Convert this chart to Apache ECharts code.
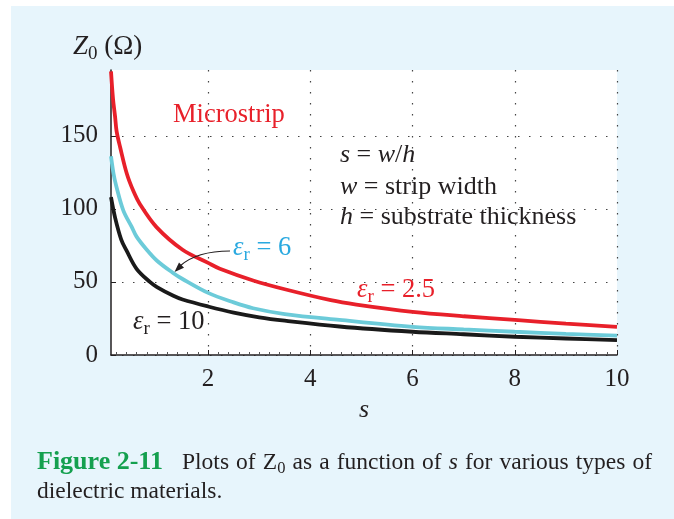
<!DOCTYPE html>
<html>
<head>
<meta charset="utf-8">
<script src="https://cdn.jsdelivr.net/npm/echarts@6/dist/echarts.min.js"></script>
<style>
html,body{margin:0;padding:0;background:#ffffff;width:674px;height:519px;overflow:hidden;}
#bg{position:absolute;left:11px;top:6px;right:0;bottom:0;background:#e7f5fc;}
#chart{position:absolute;left:0;top:0;width:674px;height:519px;}
</style>
</head>
<body>
<div id="bg"></div>
<div id="chart"></div>
<script>
// ---- data ----
const xTicks = [2, 4, 6, 8, 10];
const yTicks = [0, 50, 100, 150];

const sRed   = [0.1, 0.14, 0.18, 0.21, 0.28, 0.41, 0.54, 0.67, 0.99, 1.5, 2.0, 2.23, 2.88, 3.5, 4.4, 4.9, 6.0, 7.0, 8.0, 9.0, 10];
const zRed   = [194, 175, 163, 153, 142, 124, 112, 103, 87.5, 72, 63, 59, 51, 45, 37.5, 34.5, 29.5, 26.5, 24, 21.5, 19.3];

const sCyan  = [0.1, 0.15, 0.2, 0.34, 0.5, 0.6, 0.8, 1.0, 1.3, 1.5, 2.0, 2.5, 2.88, 3.5, 4.57, 6.0, 7.0, 8.0, 9.0, 10];
const zCyan  = [136, 124, 116, 99, 88, 81, 72, 64.5, 56.5, 52, 42.5, 36, 32, 28, 24, 19.3, 17.5, 15.9, 14.5, 13.2];

const sBlack = [0.1, 0.18, 0.3, 0.41, 0.6, 0.86, 1.0, 1.32, 1.5, 2.0, 2.5, 3.0, 3.5, 4.57, 6.0, 7.0, 8.0, 9.0, 10];
const zBlack = [108, 94, 79, 71, 59, 50, 46.5, 40.5, 38, 33.2, 29, 25.8, 23.5, 19.5, 15.9, 14.2, 12.5, 11.3, 10.2];

const captionLabel = 'Figure 2-11';
const captionWords1 = ['Plots', 'of', 'Z|0', 'as', 'a', 'function', 'of', '*s', 'for', 'various', 'types', 'of'];
const captionLine2 = 'dielectric materials.';

const zip = (a, b) => a.map((v, i) => [v, b[i]]);

const SERIF = '"Liberation Serif", "DejaVu Serif", serif';
const INK = '#231f20';
const RED = '#e8202a';
const CYAN = '#6ccbd9';
const CYANTXT = '#2aa9e0';
const GREEN = '#14a04f';
const dotted = { type: [1.5, 9.5], color: '#444', width: 1.2 };

const chart = echarts.init(document.getElementById('chart'), null, { renderer: 'canvas' });

function epsRich(color, size) {
  return {
    e: { fontFamily: SERIF, fontSize: size, fontStyle: 'italic', fill: color },
    r: { fontFamily: SERIF, fontSize: Math.round(size * 0.7), fill: color, padding: [14, 0, 0, 0] },
    n: { fontFamily: SERIF, fontSize: size, fill: color }
  };
}

// ---- justified caption line 1 ----
const CAP = 23.5, CAPSUB = 16.5;
const mctx = document.createElement('canvas').getContext('2d');
function mw(text, size, style) {
  mctx.font = (style || '') + ' ' + size + 'px "Liberation Serif"';
  return mctx.measureText(text).width;
}
function wordInfo(w) {
  if (w.indexOf('|') >= 0) {
    const [a, b] = w.split('|');
    return { width: mw(a, CAP) + mw(b, CAPSUB),
      style: { text: '{n|' + a + '}{s|' + b + '}', verticalAlign: 'middle',
        rich: { n: { fontFamily: SERIF, fontSize: CAP, fill: INK },
                s: { fontFamily: SERIF, fontSize: CAPSUB, fill: INK, padding: [12, 0, 0, 0] } } } };
  }
  if (w[0] === '*') {
    const t = w.slice(1);
    return { width: mw(t, CAP, 'italic'),
      style: { text: t, fontFamily: SERIF, fontSize: CAP, fontStyle: 'italic', fill: INK, verticalAlign: 'middle' } };
  }
  return { width: mw(w, CAP), style: { text: w, fontFamily: SERIF, fontSize: CAP, fill: INK, verticalAlign: 'middle' } };
}
const capStart = 182, capEnd = 652, capY = 463;
const infos = captionWords1.map(wordInfo);
const totalW = infos.reduce((s, o) => s + o.width, 0);
const gap = (capEnd - capStart - totalW) / (infos.length - 1);
const captionGraphics = [];
let cx = capStart;
infos.forEach(o => {
  captionGraphics.push({ type: 'text', x: cx, y: capY, z: 10, style: o.style });
  cx += o.width + gap;
});
captionGraphics.push({ type: 'text', x: 37, y: capY - 1, z: 10,
  style: { text: captionLabel, fontFamily: SERIF, fontSize: 26, fontWeight: 'bold', fill: GREEN, verticalAlign: 'middle' } });
captionGraphics.push({ type: 'text', x: 37, y: 492, z: 10,
  style: { text: captionLine2, fontFamily: SERIF, fontSize: CAP, fill: INK, verticalAlign: 'middle' } });

const txtRich = {
  i: { fontFamily: SERIF, fontSize: 26, fontStyle: 'italic', fill: INK },
  n: { fontFamily: SERIF, fontSize: 26, fill: INK }
};

const option = {
  backgroundColor: 'transparent',
  animation: false,
  grid: { left: 111, right: 57, top: 70, bottom: 164, show: true, backgroundColor: '#ffffff', borderWidth: 0 },
  xAxis: {
    type: 'value', min: 0.1, max: 10,
    name: 's', nameLocation: 'middle', nameGap: 37,
    nameTextStyle: { fontFamily: SERIF, fontSize: 26, fontStyle: 'italic', color: INK },
    axisLine: { show: true, onZero: false, lineStyle: { color: INK, width: 1.5 } },
    axisTick: { show: true, inside: true, length: 5, customValues: xTicks, lineStyle: { color: INK } },
    minorTick: { show: true, splitNumber: 10, length: 3, lineStyle: { color: '#555' } },
    axisLabel: { customValues: xTicks, fontFamily: SERIF, fontSize: 25, color: INK, margin: 12 },
    splitLine: { show: true, lineStyle: dotted }
  },
  yAxis: {
    type: 'value', min: 0, max: 195,
    axisLine: { show: true, onZero: false, lineStyle: { color: INK, width: 1.5 } },
    axisTick: { show: true, inside: true, length: 5, customValues: yTicks, lineStyle: { color: INK } },
    axisLabel: { customValues: yTicks, fontFamily: SERIF, fontSize: 25, color: INK, margin: 13 },
    splitLine: { show: true, lineStyle: dotted }
  },
  series: [
    { type: 'line', name: 'er=2.5', data: zip(sRed, zRed), smooth: 0.35, showSymbol: false, clip: true,
      lineStyle: { color: RED, width: 3.8 }, z: 5 },
    { type: 'line', name: 'er=6', data: zip(sCyan, zCyan), smooth: 0.35, showSymbol: false, clip: true,
      lineStyle: { color: CYAN, width: 3.8 }, z: 4 },
    { type: 'line', name: 'er=10', data: zip(sBlack, zBlack), smooth: 0.35, showSymbol: false, clip: true,
      lineStyle: { color: '#1a1a1a', width: 3.8 }, z: 3 }
  ],
  graphic: [
    // y axis title
    { type: 'text', x: 73, y: 47, z: 10, style: {
      text: '{z|Z}{s|0}{n| (Ω)}', verticalAlign: 'middle',
      rich: {
        z: { fontFamily: SERIF, fontSize: 27, fontStyle: 'italic', fill: INK },
        s: { fontFamily: SERIF, fontSize: 19, fill: INK, padding: [15, 0, 0, 0] },
        n: { fontFamily: SERIF, fontSize: 27, fill: INK }
      } } },
    // plot annotations
    { type: 'text', x: 173, y: 115, z: 10, style: { text: 'Microstrip', fontFamily: SERIF, fontSize: 26.5, fill: RED, verticalAlign: 'middle' } },
    { type: 'text', x: 340, y: 155, z: 10, style: { text: '{i|s}{n| = }{i|w}{n|/}{i|h}', verticalAlign: 'middle', rich: txtRich } },
    { type: 'text', x: 340, y: 187, z: 10, style: { text: '{i|w}{n| = strip width}', verticalAlign: 'middle', rich: txtRich } },
    { type: 'text', x: 340, y: 217, z: 10, style: { text: '{i|h}{n| = substrate thickness}', verticalAlign: 'middle', rich: txtRich } },
    { type: 'text', x: 233, y: 248, z: 10, style: { text: '{e|ε}{r|r}{n| = 6}', verticalAlign: 'middle', rich: epsRich(CYANTXT, 26.5) } },
    { type: 'text', x: 357, y: 290, z: 10, style: { text: '{e|ε}{r|r}{n| = 2.5}', verticalAlign: 'middle', rich: epsRich(RED, 26.5) } },
    { type: 'text', x: 133, y: 322, z: 10, style: { text: '{e|ε}{r|r}{n| = 10}', verticalAlign: 'middle', rich: epsRich(INK, 26.5) } },
    // arrow
    { type: 'bezierCurve', z: 10, shape: { x1: 230, y1: 251, cpx1: 206, cpy1: 251, cpx2: 190, cpy2: 257, x2: 180, y2: 266 },
      style: { stroke: INK, lineWidth: 1.2, fill: null } },
    { type: 'polygon', z: 10, shape: { points: [[174.5, 272], [184, 267.8], [179, 262.6]] }, style: { fill: INK } }
  ].concat(captionGraphics)
};
chart.setOption(option);
</script>
</body>
</html>
